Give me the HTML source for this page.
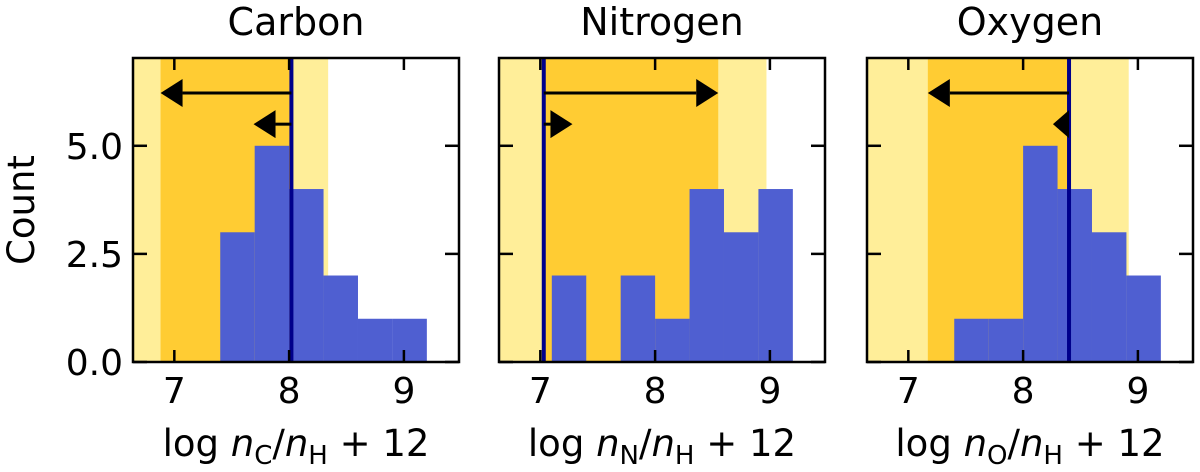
<!DOCTYPE html>
<html><head><meta charset="utf-8"><style>
body{margin:0;background:#fff}
svg{display:block;font-family:"DejaVu Sans","Liberation Sans",sans-serif}
</style></head><body>
<svg id="fig" width="1200" height="472" viewBox="0 0 1200 472"></svg>
<script>
const panelNames = ["Carbon","Nitrogen","Oxygen"];
const panelSub = ["C","N","O"];
const binEdges = [7.1,7.4,7.7,8.0,8.3,8.6,8.9,9.2];
const countsC = [0,3,5,4,2,1,1];
const countsN = [2,0,2,1,4,3,4];
const countsO = [0,1,1,5,4,3,2];
const refLine = [8.02,7.03,8.4];
const darkLo = [6.88,7.03,7.17];
const darkHi = [8.02,8.55,8.4];
const lightLo = [6.6,6.6,6.6];
const lightHi = [8.34,8.97,8.92];
const longArrowTip = [6.88,8.55,7.17];
const shortArrowTip = [7.69,7.28,8.26];
const xTicks = [7,8,9];
const yTicks = [0,2.5,5];
const yTickLabels = ["0.0","2.5","5.0"];
const allCounts = [countsC,countsN,countsO];

const NS="http://www.w3.org/2000/svg";
const svg=document.getElementById('fig');
function mk(tag,attrs,parent){const e=document.createElementNS(NS,tag);for(const k in attrs)e.setAttribute(k,attrs[k]);(parent||svg).appendChild(e);return e;}
const lefts=[133,499,867], W=326, T0=58, B0=362;
const xmin=6.64, xmax=9.48, ymax=7.03;

for(let p=0;p<3;p++){
  const L=lefts[p];
  const X=v=>L+(v-xmin)/(xmax-xmin)*W;
  const Y=v=>B0-v/ymax*(B0-T0);
  const g=mk('g',{});
  
  
  const clipId='clip'+p;
  const cp=mk('clipPath',{id:clipId},g); mk('rect',{x:L,y:T0,width:W,height:B0-T0},cp);
  const inner=mk('g',{'clip-path':'url(#'+clipId+')'},g);
  const lb=mk('rect',{x:X(lightLo[p]),y:T0,width:X(lightHi[p])-X(lightLo[p]),height:B0-T0,fill:'#ffee99'},inner);
  
  
  const db=mk('rect',{x:X(darkLo[p]),y:T0,width:X(darkHi[p])-X(darkLo[p]),height:B0-T0,fill:'#ffcc33'},inner);
  
  
  const cts=allCounts[p];
  for(let i=0;i<cts.length;i++){
    if(!cts[i])continue;
    const b=mk('rect',{x:X(binEdges[i]),y:Y(cts[i]),width:X(binEdges[i+1])-X(binEdges[i]),height:B0-Y(cts[i]),fill:'#4f5fd1'},inner);
    
    
  }
  const rl=mk('line',{x1:X(refLine[p]),x2:X(refLine[p]),y1:T0,y2:B0,stroke:'#00008b','stroke-width':4},inner);
  
  
  [[longArrowTip[p],6.22],[shortArrowTip[p],5.5]].forEach(([tip,yv],k)=>{
    const x0=X(refLine[p]), x1=X(tip), y=Y(yv), dir=Math.sign(x1-x0)||1;
    const hl=Math.min(22,Math.abs(x1-x0));
    const a=mk('g',{},inner);
    
    
    mk('line',{x1:x0,x2:x1-dir*hl,y1:y,y2:y,stroke:'#000','stroke-width':3},a);
    mk('polygon',{points:`${x1},${y} ${x1-dir*hl},${y-14} ${x1-dir*hl},${y+14}`,fill:'#000'},a);
  });
  mk('rect',{x:L,y:T0,width:W,height:B0-T0,fill:'none',stroke:'#000','stroke-width':2.5},g);
  xTicks.forEach(t=>{
    mk('line',{x1:X(t),x2:X(t),y1:B0,y2:B0-12,stroke:'#000','stroke-width':2.5},g);
    mk('line',{x1:X(t),x2:X(t),y1:T0,y2:T0+12,stroke:'#000','stroke-width':2.5},g);
    const tl=mk('text',{x:X(t),y:403,'font-size':36,'text-anchor':'middle'},g);
    tl.textContent=t;
    
    
  });
  yTicks.forEach((t,i)=>{
    mk('line',{x1:L,x2:L+14,y1:Y(t),y2:Y(t),stroke:'#000','stroke-width':2.5},g);
    mk('line',{x1:L+W,x2:L+W-14,y1:Y(t),y2:Y(t),stroke:'#000','stroke-width':2.5},g);
    if(p===0){
      const yl=mk('text',{x:L-10,y:Y(t)+13,'font-size':36,'text-anchor':'end'},g);
      yl.textContent=yTickLabels[i];
      
      
    }
  });
  const ti=mk('text',{x:L+W/2,y:35,'font-size':38,'text-anchor':'middle'},g);
  ti.textContent=panelNames[p];
  
  
  const xl=mk('text',{x:L+W/2,y:456,'font-size':37,'text-anchor':'middle'},g);
  
  
  xl.innerHTML=`log <tspan font-style="italic">n</tspan><tspan font-size="26" dy="8">${panelSub[p]}</tspan><tspan dy="-8">/</tspan><tspan font-style="italic">n</tspan><tspan font-size="26" dy="8">H</tspan><tspan dy="-8"> + 12</tspan>`;
}
const yt=mk('text',{x:34,y:210,'font-size':37,'text-anchor':'middle',transform:'rotate(-90 34 210)'});
yt.textContent='Count';


</script>
</body></html>
